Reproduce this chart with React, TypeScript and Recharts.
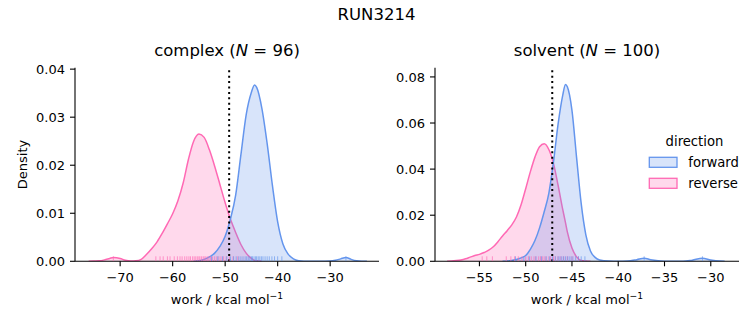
import React from "react";
import { ComposedChart, Area, Scatter, XAxis, YAxis, ReferenceLine } from "recharts";

const FORWARD = "#6495ED";
const REVERSE = "#FF69B4";
const FONT = '"DejaVu Sans", sans-serif';

// complex leg: kde curves (null = no curve drawn there)
const complexWork = [
  -76, -75, -74, -73, -72, -71.3, -70, -69, -68, -67, -66, -65, -64, -63, -62, -61, -60, -59,
  -58, -57, -56, -55, -54, -53, -52, -51, -50, -49, -48, -47, -46, -45, -44.4, -44, -43, -42,
  -41, -40, -39, -38, -37, -36, -35, -34, -32, -30, -29, -28, -27, -26, -25, -24, -23,
];
const complexReverse = [
  0, 0.00005, 0.0001, 0.0003, 0.0006, 0.0008, 0.0006, 0.0002, 0.00005, 0.0001, 0.0004, 0.0014,
  0.0026, 0.004, 0.0058, 0.0078, 0.0099, 0.0126, 0.0163, 0.0212, 0.025, 0.0265, 0.0258, 0.0232,
  0.0198, 0.016, 0.0122, 0.0088, 0.006, 0.0035, 0.0017, 0.0006, 0.0002, 0.0001, 0,
  null, null, null, null, null, null, null, null, null, null, null, null, null, null, null, null, null, null,
];
const complexForward = [
  null, null, null, null, null, null, null, null, null, null, null, null, null, null, null, null, null, null, null, null,
  0, 0.0001, 0.0004, 0.0009, 0.0017, 0.0031, 0.0052, 0.0088, 0.0138, 0.0222, 0.0305, 0.0352, 0.0367,
  0.0362, 0.0318, 0.0245, 0.0158, 0.0082, 0.0036, 0.0015, 0.0005, 0.0001, 0, 0, 0, 0.00005, 0.0002,
  0.0005, 0.0008, 0.0004, 0.0001, 0, 0,
];
const complexReverseRug = [
  -71.3, -63.2, -62.4, -61.8, -61.0, -60.5, -59.7, -59.1, -58.6, -58.2, -57.7, -57.3, -56.9, -56.6,
  -56.2, -55.9, -55.6, -55.3, -55.0, -54.8, -54.5, -54.2, -54.0, -53.7, -53.4, -53.1, -52.8, -52.4,
  -52.0, -51.6, -51.2, -50.8, -50.3, -49.8, -49.2, -48.5, -47.6,
];
const complexForwardRug = [
  -52.6, -51.4, -50.5, -49.7, -49.0, -48.4, -47.9, -47.4, -47.0, -46.6, -46.2, -45.9, -45.6, -45.3,
  -45.0, -44.8, -44.5, -44.2, -44.0, -43.7, -43.4, -43.1, -42.8, -42.4, -42.0, -41.6, -41.1, -40.6,
  -40.0, -39.2, -27.0,
];
const complexXTicks = [-70, -60, -50, -40, -30];
const complexYTicks = [0, 0.01, 0.02, 0.03, 0.04];
const complexCutoff = -49.24;

// solvent leg
const solventWork = [
  -58.5, -58, -57.5, -57, -56.5, -56, -55.5, -55, -54.5, -54, -53.5, -53, -52.5, -52, -51.5, -51,
  -50.5, -50, -49.5, -49, -48.5, -48, -47.5, -47, -46.5, -46, -45.7, -45.5, -45, -44.5, -44, -43.5,
  -43, -42.5, -42, -41, -40, -39, -38, -37.2, -36.5, -35, -33, -32, -30.9, -30, -29, -28.5,
];
const solventReverse = [
  0, 0.0001, 0.0003, 0.0006, 0.0011, 0.0018, 0.0025, 0.003, 0.0038, 0.0048, 0.0063, 0.0085, 0.011,
  0.0133, 0.0158, 0.0192, 0.0245, 0.0315, 0.0388, 0.0452, 0.0497, 0.051, 0.0485, 0.0425, 0.033,
  0.0225, 0.0168, 0.0128, 0.0058, 0.0019, 0.0004, 0.0001, 0,
  null, null, null, null, null, null, null, null, null, null, null, null, null, null, null,
];
const solventForward = [
  null, null, null, null, null, null, null, null, null, null, null, null,
  0, 0.0001, 0.0004, 0.0008, 0.0015, 0.0025, 0.0052, 0.009, 0.0145, 0.0215, 0.0295, 0.043, 0.0595,
  0.072, 0.0767, 0.0757, 0.0655, 0.045, 0.025, 0.0115, 0.0045, 0.0017, 0.0006, 0.0001, 0, 0.0001,
  0.0007, 0.0013, 0.0007, 0.00005, 0, 0.0005, 0.0013, 0.0006, 0.0001, 0,
];
const solventReverseRug = [
  -54.7, -54.2, -53.6, -52.1, -51.6, -51.2, -50.8, -50.4, -50.0, -49.7, -49.4, -49.1, -48.9, -48.6,
  -48.4, -48.2, -48.0, -47.8, -47.5, -47.3, -47.0, -46.8, -46.5, -46.2, -45.9, -45.5, -45.0, -44.3,
];
const solventForwardRug = [
  -51.1, -50.2, -49.6, -48.9, -48.3, -47.8, -47.4, -47.1, -46.8, -46.5, -46.3, -46.1, -45.9, -45.7,
  -45.5, -45.3, -45.1, -44.9, -44.6, -44.3, -44.0, -43.6, -37.2, -30.9,
];
const solventXTicks = [-55, -50, -45, -40, -35, -30];
const solventYTicks = [0, 0.02, 0.04, 0.06, 0.08];
const solventCutoff = -47.13;

const fmtWork = (v: number) => (v < 0 ? "\u2212" + Math.abs(v) : String(v));
const fmtDensity = (v: number) => v.toFixed(2);

const rugTick = (color: string) => (props: any) => (
  <line
    x1={props.cx}
    x2={props.cx}
    y1={props.cy}
    y2={props.cy - 5}
    stroke={color}
    strokeWidth={1}
    strokeOpacity={0.65}
  />
);

const tickStyle = { fill: "#000", fontSize: 13, fontFamily: FONT };
const lineStyle = { stroke: "#000", strokeWidth: 1.1 };

type PanelProps = {
  left: number;
  width: number;
  work: number[];
  forward: (number | null)[];
  reverse: (number | null)[];
  forwardRug: number[];
  reverseRug: number[];
  xDomain: [number, number];
  yDomain: [number, number];
  xTicks: number[];
  yTicks: number[];
  cutoff: number;
};

function Panel(p: PanelProps) {
  const table = p.work.map((x, i) => ({ x, forward: p.forward[i], reverse: p.reverse[i] }));
  const fRug = p.forwardRug.map((x) => ({ x, y: 0 }));
  const rRug = p.reverseRug.map((x) => ({ x, y: 0 }));
  return (
    <div style={{ position: "absolute", left: p.left, top: 0 }}>
      <ComposedChart
        width={p.width}
        height={325}
        data={table}
        margin={{ top: 67.7, right: p.width - 379, bottom: 0, left: 15 }}
      >
        <XAxis
          dataKey="x"
          type="number"
          domain={p.xDomain}
          ticks={p.xTicks}
          allowDataOverflow
          interval={0}
          tickFormatter={fmtWork}
          height={63.7}
          tickSize={5}
          tickMargin={6}
          tick={tickStyle}
          axisLine={lineStyle}
          tickLine={lineStyle}
        />
        <YAxis
          type="number"
          domain={p.yDomain}
          ticks={p.yTicks}
          allowDataOverflow
          interval={0}
          width={60}
          tickFormatter={fmtDensity}
          tickSize={5}
          tickMargin={5}
          tick={tickStyle}
          axisLine={lineStyle}
          tickLine={lineStyle}
        />
        <Area
          type="monotone"
          dataKey="reverse"
          stroke={REVERSE}
          strokeWidth={1.5}
          fill={REVERSE}
          fillOpacity={0.25}
          dot={false}
          activeDot={false}
          isAnimationActive={false}
        />
        <Area
          type="monotone"
          dataKey="forward"
          stroke={FORWARD}
          strokeWidth={1.5}
          fill={FORWARD}
          fillOpacity={0.25}
          dot={false}
          activeDot={false}
          isAnimationActive={false}
        />
        <Scatter data={rRug} dataKey="y" shape={rugTick(REVERSE)} isAnimationActive={false} />
        <Scatter data={fRug} dataKey="y" shape={rugTick(FORWARD)} isAnimationActive={false} />
        <ReferenceLine x={p.cutoff} stroke="#000" strokeWidth={2} strokeDasharray="2 3.4" />
      </ComposedChart>
    </div>
  );
}

export default function App() {
  return (
    <div style={{ position: "absolute", left: 0, top: 0, width: 753, height: 325, background: "#fff" }}>
      <Panel
        left={0}
        width={400}
        work={complexWork}
        forward={complexForward}
        reverse={complexReverse}
        forwardRug={complexForwardRug}
        reverseRug={complexReverseRug}
        xDomain={[-78.6, -20.7]}
        yDomain={[0, 0.0403]}
        xTicks={complexXTicks}
        yTicks={complexYTicks}
        cutoff={complexCutoff}
      />
      <Panel
        left={360}
        width={393}
        work={solventWork}
        forward={solventForward}
        reverse={solventReverse}
        forwardRug={solventForwardRug}
        reverseRug={solventReverseRug}
        xDomain={[-59.8, -26.95]}
        yDomain={[0, 0.084]}
        xTicks={solventXTicks}
        yTicks={solventYTicks}
        cutoff={solventCutoff}
      />
      <svg
        width={753}
        height={325}
        style={{ position: "absolute", left: 0, top: 0, pointerEvents: "none" }}
        fontFamily={FONT}
      >
        <text x={376.5} y={19.5} textAnchor="middle" fontSize={16.5}>RUN3214</text>
        <text x={227} y={56} textAnchor="middle" fontSize={16.5}>
          {"complex ("}<tspan fontStyle="italic">N</tspan>{" = 96)"}
        </text>
        <text x={587} y={56} textAnchor="middle" fontSize={16.5}>
          {"solvent ("}<tspan fontStyle="italic">N</tspan>{" = 100)"}
        </text>
        <text x={227} y={304} textAnchor="middle" fontSize={13}>
          {"work / kcal mol"}<tspan dy={-5} fontSize={9.2}>{"\u22121"}</tspan>
        </text>
        <text x={587} y={304} textAnchor="middle" fontSize={13}>
          {"work / kcal mol"}<tspan dy={-5} fontSize={9.2}>{"\u22121"}</tspan>
        </text>
        <text transform="translate(27,164.5) rotate(-90)" textAnchor="middle" fontSize={13}>Density</text>
        <text x={694.5} y={145.5} textAnchor="middle" fontSize={13.2}>direction</text>
        <rect x={649.3} y={157.3} width={27.7} height={10} fill={FORWARD} fillOpacity={0.25} stroke={FORWARD} strokeWidth={1.3} />
        <text x={688.3} y={166.5} fontSize={13.2}>forward</text>
        <rect x={649.3} y={178.3} width={27.7} height={10} fill={REVERSE} fillOpacity={0.25} stroke={REVERSE} strokeWidth={1.3} />
        <text x={688.3} y={187.5} fontSize={13.2}>reverse</text>
      </svg>
    </div>
  );
}
